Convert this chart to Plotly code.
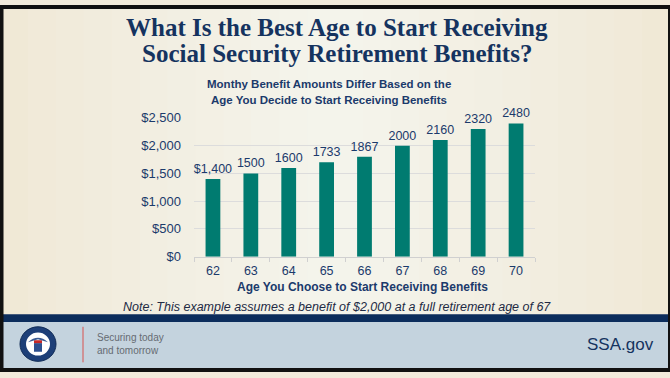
import plotly.graph_objects as go

ages = ["62", "63", "64", "65", "66", "67", "68", "69", "70"]
# bar heights as drawn in the picture (the printed labels differ slightly)
bar_heights = [1400, 1500, 1600, 1700, 1800, 2000, 2100, 2300, 2400]
bar_labels = ["$1,400", "1500", "1600", "1733", "1867", "2000", "2160", "2320", "2480"]
y_ticks = [0, 500, 1000, 1500, 2000, 2500]

W, H = 670, 378
NAVY = "#1b3a6b"
TITLE_NAVY = "#15335f"
TEAL = "#007b70"

def px(x):
    return x / W

def py(y):
    return 1 - y / H

fig = go.Figure()
fig.add_trace(go.Bar(
    x=ages, y=bar_heights, text=bar_labels, textposition="outside", constraintext="none",
    textfont=dict(family="Liberation Sans, Arial", size=12.5, color=NAVY),
    marker=dict(color=TEAL, line=dict(width=0)), cliponaxis=False,
    hoverinfo="skip",
))

# soft horizontal background gradient (edges warm cream, centre lighter)
edge = (240, 232, 212)
centre = (244, 244, 236)
shapes = []
N = 24
for i in range(N):
    x0 = i / N
    x1 = (i + 1) / N
    t = 1 - abs(((x0 + x1) / 2) - 0.5) * 2
    t = t ** 0.8
    c = tuple(round(edge[k] + (centre[k] - edge[k]) * t) for k in range(3))
    shapes.append(dict(type="rect", xref="paper", yref="paper", x0=x0, x1=x1 + 0.002,
                       y0=py(320), y1=1, fillcolor=f"rgb{c}", line=dict(width=0), layer="below"))

shapes += [
    # footer navy band
    dict(type="rect", xref="paper", yref="paper", x0=0, x1=1, y0=py(328), y1=py(320),
         fillcolor="#0c2d5c", line=dict(width=0), layer="below"),
    # footer light band
    dict(type="rect", xref="paper", yref="paper", x0=0, x1=1, y0=py(376), y1=py(328),
         fillcolor="#c4d3de", line=dict(width=0), layer="below"),
    # red divider
    dict(type="line", xref="paper", yref="paper", x0=px(83), x1=px(83), y0=py(370), y1=py(333),
         line=dict(color="#d9534f", width=1)),
    # logo
    dict(type="circle", xref="paper", yref="paper", x0=px(20), x1=px(56), y0=py(369), y1=py(333),
         fillcolor="#1d3f78", line=dict(color="#0f2a55", width=1)),
    dict(type="circle", xref="paper", yref="paper", x0=px(26), x1=px(50), y0=py(363), y1=py(339),
         fillcolor="#ffffff", line=dict(width=0)),
    dict(type="rect", xref="paper", yref="paper", x0=px(34), x1=px(42), y0=py(359), y1=py(350),
         fillcolor="#2d4f8f", line=dict(width=0)),
    dict(type="rect", xref="paper", yref="paper", x0=px(34), x1=px(42), y0=py(350), y1=py(347),
         fillcolor="#c62828", line=dict(width=0)),
    dict(type="path", xref="paper", yref="paper",
         path=f"M {px(28)} {py(349)} Q {px(38)} {py(340)} {px(48)} {py(349)} L {px(38)} {py(346)} Z",
         fillcolor="#3b5c95", line=dict(width=0)),
    # border
    dict(type="rect", xref="paper", yref="paper", x0=px(1.5), x1=1, y0=0, y1=1,
         line=dict(color="#111111", width=4), fillcolor="rgba(0,0,0,0)"),
]

annotations = [
    dict(text="<b>What Is the Best Age to Start Receiving</b>", x=px(337), y=py(21),
         font=dict(family="Liberation Serif, Times New Roman", size=25, color=TITLE_NAVY)),
    dict(text="<b>Social Security Retirement Benefits?</b>", x=px(337), y=py(48),
         font=dict(family="Liberation Serif, Times New Roman", size=25, color=TITLE_NAVY)),
    dict(text="<b>Monthy Benefit Amounts Differ Based on the</b>", x=px(329), y=py(80),
         font=dict(family="Liberation Sans, Arial", size=11.5, color=NAVY)),
    dict(text="<b>Age You Decide to Start Receiving Benefits</b>", x=px(329), y=py(97),
         font=dict(family="Liberation Sans, Arial", size=11.5, color=NAVY)),
    dict(text="<b>Age You Choose to Start Receiving Benefits</b>", x=px(362), y=py(292),
         font=dict(family="Liberation Sans, Arial", size=12, color=NAVY)),
    dict(text="<i>Note: This example assumes a benefit of $2,000 at a full retirement age of 67</i>",
         x=px(337), y=py(312),
         font=dict(family="Liberation Sans, Arial", size=12.5, color="#222a44")),
    dict(text="Securing today<br>and tomorrow", x=px(95), y=py(351), xanchor="left", align="left",
         font=dict(family="Liberation Sans, Arial", size=10, color="#666b72")),
    dict(text="SSA.gov", x=px(656), y=py(351), xanchor="right",
         font=dict(family="Liberation Sans, Arial", size=17, color="#15335f")),
]
for a in annotations:
    a.setdefault("xref", "paper")
    a.setdefault("yref", "paper")
    a.setdefault("showarrow", False)
    a.setdefault("xanchor", "center")
    a.setdefault("yanchor", "middle")

fig.update_layout(
    width=W, height=H,
    margin=dict(l=0, r=0, t=0, b=0),
    paper_bgcolor="#f2ebdb",
    plot_bgcolor="rgba(0,0,0,0)",
    showlegend=False,
    bargap=0.61,
    shapes=shapes,
    annotations=annotations,
    xaxis=dict(domain=[px(194), px(535)], type="category", range=[-0.5, 8.5],
               showgrid=False, showline=True, linecolor="#d0d0d0", linewidth=1,
               ticks="outside", ticklen=4, tickcolor="#d0d0d0", tickson="boundaries",
               ticklabelstandoff=2,
               tickfont=dict(family="Liberation Sans, Arial", size=12.5, color=NAVY),
               fixedrange=True),
    yaxis=dict(domain=[py(260), py(115.5)], range=[0, 2500], tickvals=y_ticks,
               tickformat="$,", showgrid=True, gridcolor="#dcdcdc", gridwidth=1,
               zeroline=False, showline=False, ticks="", ticklabelstandoff=12,
               tickfont=dict(family="Liberation Sans, Arial", size=13, color=NAVY),
               fixedrange=True),
)

fig.write_html("out.html")
